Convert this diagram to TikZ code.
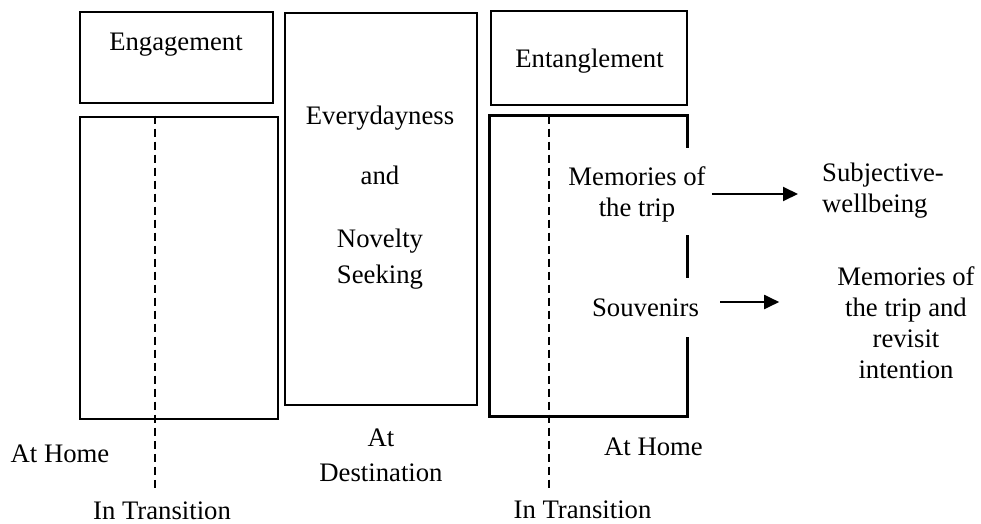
\documentclass[tikz,border=0pt]{standalone}
\usepackage{fontspec}
\setmainfont{Liberation Serif}
\usetikzlibrary{positioning,arrows.meta}

\begin{document}
\begin{tikzpicture}[
  x=0.02cm, y=-0.02cm,
  stage/.style={draw, line width=1.5pt, inner sep=0pt},
  phase/.style={font=\fontsize{15.2}{17.6}\selectfont, align=center},
  transit/.style={line width=1pt, dash pattern=on 4.6pt off 2.8pt},
  flow/.style={line width=1.1pt, -{Triangle[length=0.3cm,width=0.28cm]}}
]
\useasboundingbox (0,0) rectangle (981,524);

% Stage boxes
\node[stage, minimum width=3.86cm, minimum height=1.82cm] (engage) at (176.5,57.5) {};
\node[stage, minimum width=3.96cm, minimum height=6.04cm] (homeL) at (179,268) {};
\node[stage, minimum width=3.84cm, minimum height=7.84cm] (dest) at (381,209) {};
\node[stage, minimum width=3.92cm, minimum height=1.88cm] (entangle) at (589,58) {};
\node[minimum width=3.94cm, minimum height=6cm, inner sep=0pt] (homeR) at (588.5,266) {};

% Open box at home (right side broken)
\draw[line width=1.5pt] ([yshift=-0.64cm]homeR.north east) -- (homeR.north east) -- (homeR.north west)
  -- (homeR.south west) -- (homeR.south east) -- ([yshift=1.58cm]homeR.south east);
\draw[line width=1.5pt] (homeR.east |- 0,235) -- (homeR.east |- 0,278);

% Box texts
\node[phase] (engtxt) at (176,45) {Engagement};
\node[phase] (enttxt) at (589.5,61) {Entanglement};
\node[phase] (novelty) at (380,197.5) {Everydayness\\[16.5pt]and\\[18.2pt]Novelty\\[2.9pt]Seeking};
\node[phase] (memtrip) at (637,194) {Memories of\\the trip};
\node[phase] (souv) at (645.5,308) {Souvenirs};

% Outcomes
\node[phase, align=left, anchor=west] (swb) at (816,191) {Subjective-\\wellbeing};
\node[phase] (revisit) at (906,322.5) {Memories of\\the trip and\\revisit\\intention};

% Place labels
\node[phase] (homeLtxt) at (60,453.5) {At Home};
\node[phase] (desttxt) at (381,455) {At\\[2.3pt]Destination};
\node[phase] (homeRtxt) at (653.5,446.5) {At Home};
\node[phase] (transL) at (162,511) {In Transition};
\node[phase] (transR) at (582.5,510) {In Transition};

% Transition lines
\coordinate (endL) at (155,488);
\coordinate (endR) at (549,488);
\draw[transit] (homeL.north -| endL) -- (endL);
\draw[transit] (homeR.north -| endR) -- (endR);

% Arrows
\draw[flow, shorten >=0.36cm] (memtrip.east) -- (memtrip.east -| swb.west);
\draw[flow, shorten <=0.3cm, shorten >=1.04cm] ([yshift=0.12cm]souv.east) -- ([yshift=0.12cm]souv.east -| revisit.west);

\end{tikzpicture}
\end{document}
